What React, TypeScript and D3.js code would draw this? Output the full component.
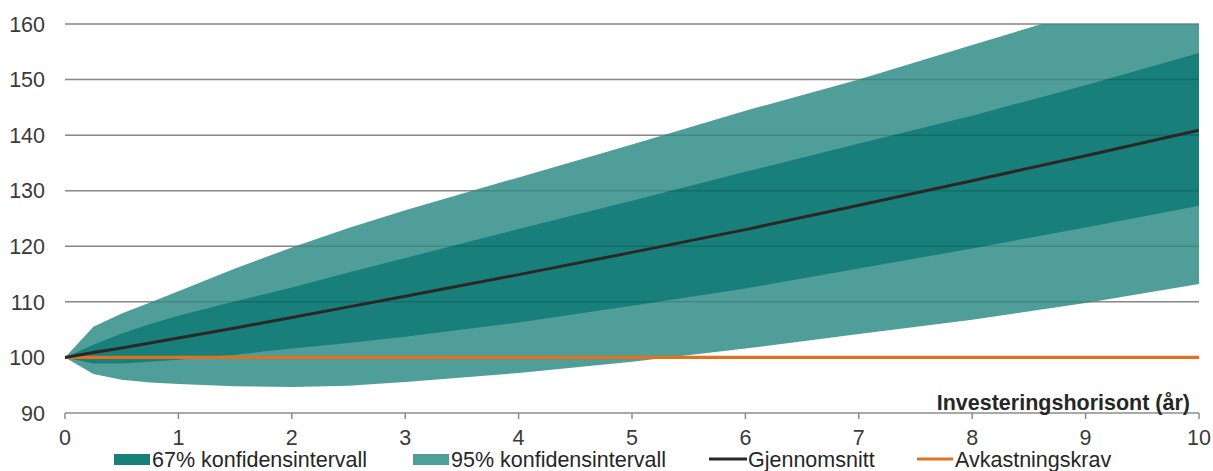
import React from "react";
import * as d3 from "d3";

const years = [0, 0.25, 0.5, 0.75, 1, 1.5, 2, 2.5, 3, 4, 5, 6, 7, 8, 9, 10];
const meanValues = [100, 100.9, 101.7, 102.6, 103.5, 105.3, 107.2, 109.1, 111.0, 114.9, 118.9, 123.0, 127.4, 131.8, 136.3, 140.9];
const upper67 = [100, 102.3, 104.3, 106.0, 107.5, 110.1, 112.6, 115.3, 117.9, 123.1, 128.2, 133.4, 138.5, 143.5, 149.0, 154.8];
const lower67 = [100, 98.9, 98.9, 99.2, 99.6, 100.5, 101.6, 102.6, 103.7, 106.3, 109.3, 112.4, 116.0, 119.6, 123.4, 127.3];
const upper95 = [100, 105.5, 107.9, 109.9, 111.9, 116.0, 119.8, 123.3, 126.5, 132.4, 138.3, 144.4, 150.0, 156.2, 162.4, 168.6];
const lower95 = [100, 97.0, 96.0, 95.5, 95.2, 94.8, 94.7, 94.9, 95.6, 97.2, 99.2, 101.6, 104.2, 106.8, 109.8, 113.2];
const requiredReturn = 100;
const yTicks = [90, 100, 110, 120, 130, 140, 150, 160];
const xTicks = [0, 1, 2, 3, 4, 5, 6, 7, 8, 9, 10];
const xTitle = "Investeringshorisont (år)";
const legendLabels = ["67% konfidensintervall", "95% konfidensintervall", "Gjennomsnitt", "Avkastningskrav"];

const W = 1213;
const H = 471;
const left = 65;
const right = 1199;
const top = 24;
const bottom = 413;

const C67 = "#187f7b";
const C95 = "#4f9e9a";
const CMEAN = "#2b2727";
const CREQ = "#e2711d";
const FONT = "'Liberation Sans', Arial, Helvetica, sans-serif";

export default function App() {
  const x = d3.scaleLinear().domain([0, 10]).range([left, right]);
  const y = d3.scaleLinear().domain([90, 160]).range([bottom, top]);

  const idx = years.map((_, i) => i);
  const area = (lo: number[], hi: number[]) =>
    d3
      .area<number>()
      .x((i) => x(years[i]))
      .y0((i) => y(lo[i]))
      .y1((i) => y(hi[i]))
      .curve(d3.curveLinear)(idx) as string;
  const meanLine = d3
    .line<number>()
    .x((i) => x(years[i]))
    .y((i) => y(meanValues[i]))
    .curve(d3.curveLinear)(idx) as string;

  const legendY = 459;
  const fs = 21.5;

  return (
    <svg width={W} height={H} style={{ position: "absolute", left: 0, top: 0, background: "#fff" }} fontFamily={FONT}>
      <defs>
        <clipPath id="plot">
          <rect x={left} y={top} width={right - left} height={bottom - top} />
        </clipPath>
      </defs>
      {yTicks.filter((t) => t > 90).map((t) => (
        <line key={"g" + t} x1={left} x2={right} y1={y(t)} y2={y(t)} stroke="#a0a0a0" strokeWidth={1.5} />
      ))}
      <g clipPath="url(#plot)">
        <path d={area(lower95, upper95)} fill={C95} />
        <path d={area(lower67, upper67)} fill={C67} />
      </g>
      {yTicks.filter((t) => t > 90).map((t) => (
        <line key={"o" + t} x1={left} x2={right} y1={y(t)} y2={y(t)} stroke="#000" strokeOpacity={0.15} strokeWidth={1.5} />
      ))}
      <line x1={x(0)} x2={x(10)} y1={y(requiredReturn)} y2={y(requiredReturn)} stroke={CREQ} strokeWidth={3.2} />
      <path d={meanLine} fill="none" stroke={CMEAN} strokeWidth={3} clipPath="url(#plot)" />

      <line x1={left} x2={right} y1={bottom} y2={bottom} stroke="#8c8c8c" strokeWidth={1.5} />
      {xTicks.map((t) => (
        <g key={"x" + t}>
          <line x1={x(t)} x2={x(t)} y1={bottom} y2={bottom + 6} stroke="#8c8c8c" strokeWidth={1.5} />
          <text x={x(t)} y={445} textAnchor="middle" fontSize={fs} fill="#3a3a3a">
            {t}
          </text>
        </g>
      ))}
      {yTicks.map((t) => (
        <text key={"y" + t} x={45} y={y(t)} dy="0.36em" textAnchor="end" fontSize={fs} fill="#3a3a3a">
          {t}
        </text>
      ))}
      <text x={1190} y={410} textAnchor="end" fontSize={21.5} fontWeight="bold" fill="#262626">
        {xTitle}
      </text>

      <rect x={114} y={legendY - 5} width={36} height={11} fill={C67} />
      <text x={152} y={467} fontSize={fs} fill="#262626">{legendLabels[0]}</text>
      <rect x={413} y={legendY - 5} width={36} height={11} fill={C95} />
      <text x={451} y={467} fontSize={fs} fill="#262626">{legendLabels[1]}</text>
      <line x1={709} x2={747} y1={legendY} y2={legendY} stroke={CMEAN} strokeWidth={3} />
      <text x={748} y={467} fontSize={fs} fill="#262626">{legendLabels[2]}</text>
      <line x1={917} x2={953} y1={legendY} y2={legendY} stroke={CREQ} strokeWidth={3} />
      <text x={955} y={467} fontSize={fs} fill="#262626">{legendLabels[3]}</text>
    </svg>
  );
}
